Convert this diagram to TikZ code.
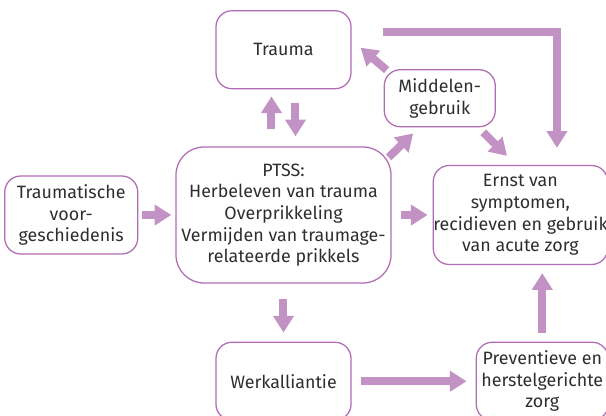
\documentclass[tikz,border=0pt]{standalone}
\usepackage{fontspec}
\setmainfont{Fira Sans}
\usetikzlibrary{arrows.meta,positioning,calc}
\definecolor{mappurple}{HTML}{B06CB4}
\definecolor{arrowpurple}{HTML}{C392C4}
\definecolor{textgrey}{HTML}{2E2E2E}

\begin{document}
\begin{tikzpicture}[
  node distance=1.4cm,
  box/.style={draw=mappurple, line width=0.9pt, rounded corners=0.4cm, align=center, text=textgrey, inner sep=0pt, minimum width=3.375cm, minimum height=1.95cm, font=\fontsize{12.7pt}{15.4pt}\selectfont},
  bigbox/.style={box, minimum width=5.375cm, minimum height=3.4cm, rounded corners=0.7cm},
  arr/.style={-{Triangle[width=0.5cm,length=0.42cm]}, line width=0.2cm, draw=arrowpurple}
]
\useasboundingbox (-7.0875,-5.025) rectangle (8.0625,5.375);
\clip (-7.0875,-5.025) rectangle (8.0625,5.375);
\node[bigbox] (ptss) at (0,0) {PTSS:\\Herbeleven van trauma\\Overprikkeling\\Vermijden van traumage-\\relateerde prikkels};
\node[box, above=1.425cm of ptss] (trauma) {Trauma};
\node[box, below=1.45cm of ptss] (werk) {Werkalliantie};
\node[box, left=0.925cm of ptss, minimum width=3.325cm] (voorg) {Traumatische\\voor-\\geschiedenis};
\node[box, right=1.025cm of ptss, minimum width=4.325cm, minimum height=2.475cm] (ernst) {Ernst van\\symptomen,\\recidieven en gebruik\\van acute zorg};
\node[box, right=3.1cm of werk, minimum width=3.3cm] (prev) {Preventieve en\\herstelgerichte\\zorg};
\node[box, right=0.8cm of trauma, yshift=-1.2125cm, minimum width=2.775cm, minimum height=1.425cm] (midd) {Middelen-\\gebruik};
% straight connectors
\draw[arr, shorten <=1mm, shorten >=1mm] (voorg) -- (ptss);
\draw[arr, shorten <=2.25mm, shorten >=1.25mm] (ptss) -- (ernst);
\draw[arr, shorten <=3.75mm, shorten >=2.25mm] (ptss) -- (werk);
\draw[arr, shorten <=2.25mm, shorten >=2.25mm] (werk) -- (prev);
\draw[arr, shorten <=2.25mm, shorten >=2mm] (prev) -- (prev |- ernst.south);
\draw[arr, shorten <=4.25mm, shorten >=1.75mm] ([xshift=-3mm]ptss.north) -- ([xshift=-3mm]trauma.south);
\draw[arr, shorten <=3.5mm, shorten >=2.5mm] ([xshift=3mm]trauma.south) -- ([xshift=3mm]ptss.north);
% diagonal connectors around Middelengebruik
\draw[arr] ($(ptss.north east)+(-0.075,-0.275)$) -- ($(midd.south)+(-0.6625,-0.15)$);
\draw[arr] ($(midd.north west)+(0.075,-0.025)$) -- ($(trauma.east)+(0.225,0.05)$);
\draw[arr] ($(midd.south)+(1.0875,-0.125)$) -- ($(ernst.north)+(-0.3375,0.225)$);
\draw[arr, shorten >=4.25mm] ($(trauma.east)+(0.775,0.45)$) -| ([xshift=9.125mm]ernst.north);
\end{tikzpicture}
\end{document}
